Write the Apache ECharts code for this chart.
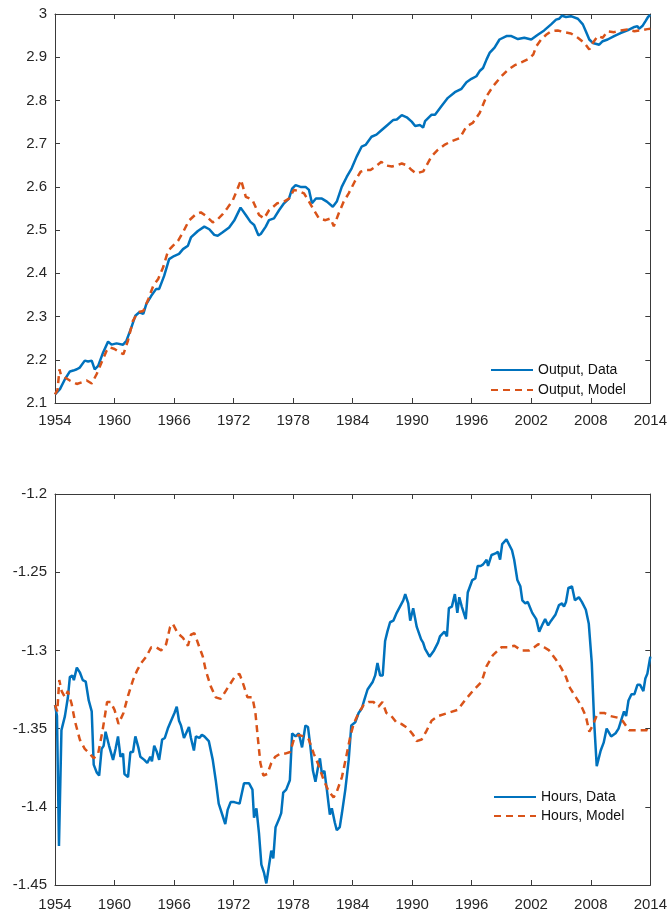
<!DOCTYPE html>
<html>
<head>
<meta charset="utf-8">
<script src="https://cdn.jsdelivr.net/npm/echarts@6/dist/echarts.min.js"></script>
<style>
  html, body { margin: 0; padding: 0; background: #fff; }
  #chart { width: 670px; height: 915px; }
</style>
</head>
<body>
<div id="chart"></div>
<script>
// ---- data ----
const yearTicks = [1954, 1960, 1966, 1972, 1978, 1984, 1990, 1996, 2002, 2008, 2014];

const outDataYears = [1954.0,1954.2,1954.5,1955.0,1955.5,1955.84,1956.2,1956.5,1957.0,1957.34,1957.7,1958.0,1958.35,1958.85,1959.35,1959.7,1960.2,1960.86,1961.2,1961.7,1962.1,1962.5,1962.9,1963.2,1963.7,1964.2,1964.5,1965.0,1965.5,1966.0,1966.5,1966.9,1967.4,1967.7,1968.4,1969.05,1969.55,1970.05,1970.4,1970.9,1971.55,1972.06,1972.7,1973.23,1973.7,1974.07,1974.5,1974.74,1975.24,1975.57,1976.07,1976.58,1977.08,1977.58,1977.9,1978.25,1978.75,1979.25,1979.6,1979.9,1980.3,1980.9,1981.4,1982.0,1982.4,1982.9,1983.4,1983.9,1984.4,1984.9,1985.3,1985.9,1986.4,1986.9,1987.4,1988.1,1988.45,1988.95,1989.45,1989.95,1990.3,1990.8,1991.1,1991.3,1991.96,1992.3,1992.96,1993.6,1994.3,1994.97,1995.47,1995.97,1996.47,1996.8,1997.14,1997.5,1997.8,1998.3,1998.8,1999.5,2000.0,2000.66,2001.3,2002.0,2002.2,2002.66,2003.3,2004.0,2004.5,2004.8,2005.1,2005.5,2006.0,2006.7,2007.2,2007.5,2007.85,2008.2,2008.85,2009.2,2009.7,2010.35,2011.0,2011.7,2012.4,2012.7,2012.86,2013.2,2013.5,2013.77,2014.0];
const outData = [2.12,2.121,2.132,2.155,2.173,2.175,2.178,2.182,2.198,2.196,2.198,2.178,2.186,2.217,2.242,2.235,2.238,2.235,2.244,2.275,2.302,2.31,2.306,2.329,2.348,2.364,2.364,2.394,2.433,2.44,2.445,2.456,2.464,2.483,2.498,2.508,2.502,2.489,2.487,2.495,2.506,2.522,2.552,2.535,2.519,2.512,2.488,2.491,2.508,2.523,2.527,2.546,2.562,2.573,2.596,2.604,2.6,2.6,2.593,2.562,2.573,2.573,2.566,2.554,2.566,2.6,2.623,2.643,2.67,2.693,2.697,2.716,2.721,2.731,2.741,2.755,2.756,2.766,2.761,2.751,2.741,2.743,2.737,2.752,2.767,2.767,2.787,2.806,2.819,2.827,2.842,2.85,2.856,2.868,2.875,2.895,2.91,2.922,2.941,2.949,2.949,2.942,2.945,2.941,2.937,2.952,2.962,2.976,2.987,2.989,2.996,2.993,2.995,2.989,2.976,2.96,2.941,2.933,2.929,2.937,2.941,2.949,2.956,2.962,2.97,2.972,2.966,2.972,2.983,2.993,2.998];

const outModelYears = [1954.0,1954.25,1954.45,1954.6,1955.0,1955.5,1956.2,1956.7,1957.2,1957.7,1958.2,1958.7,1959.2,1959.5,1960.0,1960.5,1960.9,1961.35,1961.85,1962.36,1962.9,1963.4,1963.9,1964.4,1964.9,1965.4,1965.9,1966.4,1966.9,1967.5,1968.2,1968.7,1969.2,1969.9,1970.4,1970.9,1971.4,1971.9,1972.3,1972.75,1973.23,1973.9,1974.57,1975.07,1975.57,1976.4,1977.08,1977.58,1978.08,1978.6,1979.1,1979.6,1980.1,1980.6,1981.26,1981.76,1982.1,1982.6,1983.1,1983.6,1984.2,1984.8,1985.3,1985.8,1986.3,1986.9,1987.3,1987.95,1988.45,1988.95,1989.45,1989.95,1990.4,1991.12,1991.96,1992.6,1993.3,1994.0,1994.8,1995.47,1996.1,1996.8,1997.5,1998.15,1999.0,1999.65,2000.3,2001.0,2001.65,2002.2,2002.5,2003.0,2003.5,2004.0,2004.67,2005.3,2006.0,2006.7,2007.35,2007.85,2008.2,2008.7,2009.2,2009.7,2010.35,2011.0,2011.7,2012.4,2013.0,2013.7,2014.0];
const outModel = [2.12,2.13,2.178,2.165,2.159,2.152,2.144,2.148,2.152,2.145,2.167,2.194,2.221,2.229,2.225,2.217,2.213,2.244,2.29,2.31,2.313,2.34,2.371,2.387,2.414,2.452,2.464,2.475,2.495,2.522,2.537,2.541,2.533,2.518,2.525,2.537,2.552,2.568,2.59,2.616,2.577,2.57,2.535,2.527,2.546,2.562,2.566,2.573,2.593,2.59,2.585,2.566,2.546,2.527,2.523,2.527,2.509,2.539,2.566,2.585,2.612,2.635,2.639,2.639,2.647,2.658,2.65,2.647,2.65,2.654,2.65,2.639,2.631,2.636,2.671,2.686,2.698,2.706,2.713,2.74,2.748,2.771,2.81,2.833,2.856,2.871,2.881,2.888,2.895,2.906,2.925,2.941,2.952,2.96,2.962,2.958,2.955,2.945,2.933,2.918,2.933,2.949,2.945,2.96,2.958,2.962,2.964,2.96,2.962,2.965,2.966];

const hrsDataYears = [1954.0,1954.2,1954.4,1954.65,1955.0,1955.3,1955.5,1955.74,1955.9,1956.2,1956.5,1956.8,1957.1,1957.4,1957.7,1957.9,1958.2,1958.45,1958.7,1958.9,1959.1,1959.45,1959.85,1960.1,1960.35,1960.6,1960.86,1961.0,1961.36,1961.6,1961.86,1962.1,1962.4,1962.6,1963.0,1963.3,1963.6,1963.77,1964.0,1964.27,1964.5,1964.8,1965.07,1965.37,1965.7,1966.04,1966.27,1966.5,1966.7,1967.0,1967.2,1967.5,1967.7,1968.0,1968.2,1968.55,1968.8,1969.05,1969.5,1969.9,1970.2,1970.5,1970.7,1971.16,1971.4,1971.7,1972.06,1972.6,1973.05,1973.56,1973.9,1974.06,1974.3,1974.56,1974.8,1975.06,1975.3,1975.56,1975.8,1976.0,1976.23,1976.57,1976.8,1977.0,1977.3,1977.67,1977.9,1978.24,1978.57,1978.9,1979.24,1979.5,1979.75,1980.0,1980.25,1980.5,1980.7,1980.9,1981.15,1981.4,1981.7,1981.9,1982.2,1982.4,1982.7,1982.92,1983.26,1983.6,1983.86,1984.26,1984.6,1984.93,1985.16,1985.5,1985.7,1986.03,1986.27,1986.5,1986.77,1987.03,1987.27,1987.5,1987.77,1988.1,1988.44,1988.77,1989.1,1989.3,1989.6,1989.8,1990.1,1990.46,1990.9,1991.1,1991.3,1991.5,1991.75,1992.2,1992.6,1992.8,1993.25,1993.5,1993.7,1994.0,1994.3,1994.55,1994.75,1995.0,1995.4,1995.6,1996.06,1996.36,1996.6,1996.9,1997.15,1997.5,1997.65,1998.0,1998.4,1998.64,1998.86,1999.07,1999.5,1999.7,2000.06,2000.28,2000.6,2000.9,2001.1,2001.4,2001.65,2002.1,2002.5,2002.8,2003.16,2003.4,2003.7,2004.0,2004.45,2004.8,2005.1,2005.3,2005.5,2005.75,2006.1,2006.4,2006.8,2007.1,2007.5,2007.8,2008.1,2008.35,2008.6,2009.0,2009.3,2009.6,2010.05,2010.5,2010.8,2011.1,2011.35,2011.56,2011.8,2012.1,2012.4,2012.7,2012.97,2013.3,2013.5,2013.7,2014.0];
const hrsData = [-1.335,-1.342,-1.425,-1.351,-1.342,-1.33,-1.317,-1.316,-1.319,-1.311,-1.314,-1.319,-1.32,-1.332,-1.339,-1.373,-1.378,-1.38,-1.363,-1.361,-1.352,-1.361,-1.37,-1.363,-1.355,-1.368,-1.366,-1.379,-1.381,-1.365,-1.365,-1.355,-1.362,-1.368,-1.37,-1.372,-1.368,-1.371,-1.361,-1.365,-1.37,-1.357,-1.356,-1.35,-1.345,-1.34,-1.336,-1.345,-1.348,-1.356,-1.355,-1.349,-1.356,-1.364,-1.355,-1.356,-1.354,-1.355,-1.358,-1.37,-1.383,-1.398,-1.399,-1.411,-1.402,-1.397,-1.397,-1.398,-1.385,-1.385,-1.389,-1.407,-1.401,-1.417,-1.437,-1.442,-1.449,-1.438,-1.428,-1.433,-1.413,-1.408,-1.404,-1.391,-1.389,-1.383,-1.353,-1.355,-1.353,-1.362,-1.348,-1.349,-1.362,-1.377,-1.384,-1.375,-1.369,-1.379,-1.377,-1.389,-1.405,-1.401,-1.41,-1.415,-1.413,-1.404,-1.389,-1.37,-1.348,-1.346,-1.34,-1.337,-1.332,-1.325,-1.326,-1.32,-1.316,-1.308,-1.316,-1.316,-1.294,-1.288,-1.282,-1.281,-1.276,-1.272,-1.268,-1.264,-1.27,-1.281,-1.273,-1.285,-1.293,-1.295,-1.299,-1.3,-1.304,-1.3,-1.295,-1.291,-1.288,-1.291,-1.273,-1.272,-1.264,-1.276,-1.266,-1.272,-1.28,-1.263,-1.255,-1.254,-1.246,-1.246,-1.245,-1.242,-1.246,-1.239,-1.238,-1.237,-1.242,-1.232,-1.229,-1.229,-1.236,-1.242,-1.255,-1.259,-1.268,-1.27,-1.269,-1.276,-1.28,-1.288,-1.283,-1.28,-1.284,-1.281,-1.277,-1.271,-1.27,-1.272,-1.269,-1.26,-1.259,-1.268,-1.266,-1.269,-1.274,-1.283,-1.308,-1.347,-1.374,-1.364,-1.359,-1.35,-1.355,-1.353,-1.35,-1.344,-1.339,-1.342,-1.332,-1.328,-1.328,-1.322,-1.322,-1.326,-1.318,-1.315,-1.304];

const hrsModelYears = [1954.0,1954.23,1954.43,1954.67,1955.0,1955.3,1955.67,1956.0,1956.5,1957.0,1957.5,1957.9,1958.35,1958.8,1959.25,1959.6,1960.0,1960.4,1960.9,1961.36,1961.86,1962.26,1962.7,1963.2,1963.7,1964.2,1964.7,1965.2,1965.6,1965.87,1966.37,1966.9,1967.4,1967.7,1968.05,1968.5,1968.9,1969.2,1969.7,1970.2,1970.7,1971.2,1971.7,1972.2,1972.6,1973.0,1973.4,1973.9,1974.2,1974.46,1974.7,1975.0,1975.4,1975.8,1976.2,1976.7,1977.2,1977.7,1978.07,1978.57,1979.07,1979.58,1980.08,1980.6,1981.08,1981.58,1982.08,1982.42,1982.92,1983.35,1983.76,1984.1,1984.6,1985.1,1985.6,1986.1,1986.6,1987.0,1987.4,1987.9,1988.4,1988.9,1989.6,1990.1,1990.45,1990.95,1991.4,1991.95,1992.6,1993.6,1994.6,1995.3,1996.1,1997.0,1997.5,1998.14,1999.0,1999.65,2000.3,2001.0,2001.8,2002.3,2002.7,2003.3,2003.8,2004.5,2005.0,2005.5,2005.9,2006.5,2007.0,2007.5,2007.85,2008.2,2008.7,2009.35,2010.0,2010.7,2011.2,2011.85,2012.5,2013.2,2013.7,2014.0];
const hrsModel = [-1.335,-1.339,-1.319,-1.326,-1.33,-1.326,-1.334,-1.345,-1.357,-1.363,-1.366,-1.369,-1.366,-1.351,-1.333,-1.333,-1.338,-1.347,-1.34,-1.329,-1.319,-1.313,-1.308,-1.304,-1.298,-1.298,-1.3,-1.296,-1.285,-1.283,-1.289,-1.292,-1.297,-1.29,-1.289,-1.297,-1.304,-1.313,-1.323,-1.33,-1.331,-1.326,-1.321,-1.316,-1.315,-1.322,-1.33,-1.33,-1.34,-1.357,-1.372,-1.38,-1.379,-1.372,-1.368,-1.366,-1.366,-1.365,-1.357,-1.354,-1.355,-1.357,-1.366,-1.374,-1.383,-1.39,-1.394,-1.39,-1.381,-1.368,-1.355,-1.347,-1.34,-1.335,-1.333,-1.333,-1.336,-1.333,-1.34,-1.342,-1.346,-1.347,-1.35,-1.354,-1.358,-1.357,-1.352,-1.345,-1.342,-1.34,-1.338,-1.332,-1.326,-1.32,-1.31,-1.303,-1.298,-1.298,-1.297,-1.3,-1.3,-1.298,-1.296,-1.298,-1.3,-1.306,-1.311,-1.317,-1.324,-1.33,-1.335,-1.342,-1.352,-1.348,-1.34,-1.34,-1.342,-1.343,-1.345,-1.351,-1.351,-1.351,-1.351,-1.352];

// ---- styling ----
const BLUE = '#0072BD';
const ORANGE = '#D95319';
const AXIS = '#3a3a3a';
const TEXT = '#262626';
const FONT = '"Liberation Sans", Arial, sans-serif';

const zip = (xs, ys) => xs.map((x, i) => [x, ys[i]]);
const fmt = v => String(+v.toFixed(2));

function xAx(grid, pos, labels, margin) {
    return {
        type: 'value', gridIndex: grid, position: pos,
        min: yearTicks[0], max: yearTicks[yearTicks.length - 1], interval: 6,
        axisLine: { show: true, onZero: false, lineStyle: { color: AXIS, width: 1 } },
        axisTick: { show: true, inside: true, length: 5, lineStyle: { color: AXIS } },
        axisLabel: { show: labels, color: TEXT, fontSize: 15, fontFamily: FONT, margin: margin || 8,
                     formatter: v => String(v), showMinLabel: true, showMaxLabel: true },
        splitLine: { show: false }
    };
}
function yAx(grid, pos, labels, min, max, step) {
    return {
        type: 'value', gridIndex: grid, position: pos,
        min: min, max: max, interval: step,
        axisLine: { show: true, onZero: false, lineStyle: { color: AXIS, width: 1 } },
        axisTick: { show: true, inside: true, length: 5, lineStyle: { color: AXIS } },
        axisLabel: { show: labels, color: TEXT, fontSize: 15, fontFamily: FONT, margin: 8,
                     formatter: fmt, showMinLabel: true, showMaxLabel: true },
        splitLine: { show: false }
    };
}
function line(name, xi, yi, data, color, dashed) {
    return {
        name: name, type: 'line', xAxisIndex: xi, yAxisIndex: yi,
        data: data, symbol: 'none', smooth: false, clip: true,
        lineStyle: { color: color, width: 2.5, type: dashed ? [7, 5] : 'solid' },
        itemStyle: { color: color },
        z: dashed ? 3 : 2
    };
}
// legend: line sample only, no marker
function legend(names, left, top, gap) {
    return {
        data: names, orient: 'vertical', left: left, top: top,
        itemWidth: 42, itemHeight: 14, itemGap: gap,
        itemStyle: { opacity: 0 },
        textStyle: { color: '#111', fontSize: 14, fontFamily: FONT }
    };
}

const chart = echarts.init(document.getElementById('chart'), null, { renderer: 'canvas' });
chart.setOption({
    animation: false,
    backgroundColor: '#fff',
    grid: [
        { left: 55, right: 17, top: 14, height: 389 },
        { left: 55, right: 17, top: 494, height: 391 }
    ],
    xAxis: [xAx(0, 'bottom', true, 10), xAx(0, 'top', false), xAx(1, 'bottom', true, 12), xAx(1, 'top', false)],
    yAxis: [
        yAx(0, 'left', true, 2.1, 3, 0.1), yAx(0, 'right', false, 2.1, 3, 0.1),
        yAx(1, 'left', true, -1.45, -1.2, 0.05), yAx(1, 'right', false, -1.45, -1.2, 0.05)
    ],
    legend: [
        legend(['Output, Data', 'Output, Model'], 485, 358, 6),
        legend(['Hours, Data', 'Hours, Model'], 488, 785, 5)
    ],
    series: [
        line('Output, Data', 0, 0, zip(outDataYears, outData), BLUE, false),
        line('Output, Model', 0, 0, zip(outModelYears, outModel), ORANGE, true),
        line('Hours, Data', 2, 2, zip(hrsDataYears, hrsData), BLUE, false),
        line('Hours, Model', 2, 2, zip(hrsModelYears, hrsModel), ORANGE, true)
    ]
});
</script>
</body>
</html>
